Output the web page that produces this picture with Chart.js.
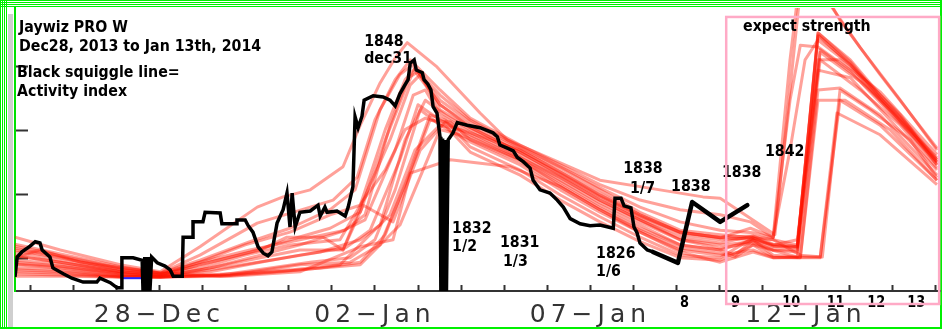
<!DOCTYPE html>
<html lang="en">
<head>
<meta charset="UTF-8">
<title>Jaywiz PRO W</title>
<script src="https://cdn.jsdelivr.net/npm/chart.js"></script>
<style>
  body { margin: 0; background: #fff; }
  canvas { display: block; }
</style>
</head>
<body>
<canvas id="jaywiz" width="942" height="329"></canvas>
<script>
// x = days from 28-Dec-2013, y = activity index
const tickDays = [0, 5, 10, 15];
const tickLabels = ['28−Dec', '02−Jan', '07−Jan', '12−Jan'];

// black squiggle (activity index)
const activityIndex = [
  [-3.35, 7.2], [-3.30, 10.3], [-3.19, 11.1], [-3.00, 12.0], [-2.88, 12.7], [-2.77, 12.5], [-2.72, 11.4],
  [-2.54, 10.3], [-2.47, 8.6], [-2.23, 7.7], [-2.03, 7.0], [-1.77, 6.4], [-1.45, 6.4], [-1.38, 7.0],
  [-1.14, 6.3], [-0.98, 5.5], [-0.89, 5.5], [-0.87, 10.2], [-0.61, 10.2], [-0.40, 9.8], [-0.38, 5.0],
  [-0.34, 10.3], [-0.30, 5.0], [-0.26, 10.3], [-0.22, 5.0], [-0.18, 10.3], [-0.05, 9.4], [0.13, 8.9],
  [0.25, 8.3], [0.32, 7.3],
  [0.53, 7.3], [0.55, 13.4], [0.78, 13.4], [0.78, 15.8], [1.01, 15.8], [1.06, 17.3], [1.41, 17.2],
  [1.45, 15.5], [1.80, 15.5], [1.80, 16.1], [1.99, 16.1], [2.06, 15.2], [2.17, 14.2], [2.29, 11.9],
  [2.41, 10.9], [2.52, 10.5], [2.61, 11.1], [2.73, 15.6], [2.87, 17.7], [2.96, 20.3], [3.03, 15.0],
  [3.08, 20.3], [3.15, 15.0], [3.26, 17.3], [3.50, 17.5], [3.68, 18.4], [3.73, 16.7], [3.84, 18.1],
  [3.89, 17.3], [4.12, 17.5], [4.31, 16.7], [4.38, 18.1], [4.49, 21.3], [4.54, 32.2], [4.61, 30.5],
  [4.70, 32.3], [4.75, 34.8], [4.96, 35.5], [5.19, 35.3], [5.35, 34.8], [5.47, 33.9], [5.58, 35.8],
  [5.68, 37.0], [5.77, 38.0], [5.82, 40.6], [5.91, 41.1], [5.96, 39.5], [6.10, 39.1], [6.14, 38.0],
  [6.23, 37.3], [6.30, 36.4], [6.35, 33.8], [6.44, 32.8], [6.51, 29.1], [6.53, 5.0], [6.57, 28.8],
  [6.60, 5.0], [6.63, 28.6], [6.66, 5.0], [6.70, 28.6], [6.81, 29.7], [6.91, 31.3], [7.14, 30.9],
  [7.44, 30.5], [7.74, 29.7], [7.84, 29.1], [7.90, 27.8], [8.07, 27.3], [8.21, 26.9], [8.30, 25.9],
  [8.44, 25.2], [8.60, 24.2], [8.67, 22.3], [8.83, 20.8], [9.06, 20.3], [9.23, 19.2], [9.37, 18.1],
  [9.53, 16.3], [9.76, 15.5], [9.99, 15.2], [10.22, 15.3], [10.53, 14.8], [10.57, 19.5], [10.71, 19.5],
  [10.78, 18.3], [10.94, 18.0], [11.01, 15.0], [11.08, 14.1], [11.15, 12.5], [11.32, 11.4], [11.45, 11.1]
];
// hand drawn extension
const activityHand = [[11.45, 11.1], [12.03, 9.4], [12.36, 18.9], [13.01, 15.8], [13.64, 18.4]];
const blueRun = [[-0.87, 7.0], [-0.38, 7.0]];

// red forecast runs
const run01 = [[-3.35,13.4],[-2.30,11.4],[-0.91,9.1],[0.02,8.0],[0.94,11.9],[2.27,18.1],[2.87,19.7],[3.50,20.8],[4.26,24.4],[4.66,30.9],[5.12,37.5],[5.47,41.4],[5.75,43.8],[6.44,40.0],[7.44,32.8],[8.07,28.6],[9.13,25.5],[10.22,22.3],[11.15,21.3],[12.61,19.7],[13.01,19.5],[13.77,16.1],[14.28,13.8],[14.87,52.0],[15.56,49.7],[16.26,43.0],[17.19,34.8],[18.04,27.0]];
const run02 = [[-3.35,12.3],[-2.30,10.8],[-0.91,8.8],[0.02,7.8],[0.94,10.6],[2.27,15.6],[3.50,18.1],[4.03,19.2],[4.59,22.8],[5.00,31.7],[5.47,38.0],[5.82,41.1],[6.51,36.4],[7.21,32.0],[8.37,27.8],[9.30,24.7],[10.22,21.6],[11.15,19.2],[12.08,17.7],[13.01,16.9],[13.71,15.8],[14.24,13.4],[14.63,41.1],[14.80,50.5],[15.33,52.8],[15.79,47.3],[16.72,38.8],[18.04,27.3]];
const run03 = [[-3.35,11.4],[-2.30,10.2],[-0.91,8.3],[0.02,7.7],[0.94,9.5],[1.99,12.2],[3.03,14.2],[3.96,16.9],[4.66,18.4],[5.24,30.2],[5.70,38.0],[5.93,39.8],[6.51,34.8],[7.21,31.4],[8.37,27.3],[9.30,24.2],[10.22,20.8],[11.15,17.3],[12.08,14.5],[13.01,13.8],[13.77,13.3],[14.24,12.2],[14.80,11.9],[15.28,45.3],[16.03,40.8],[16.72,35.3],[17.42,30.2],[18.04,25.2]];
const run04 = [[-3.35,10.5],[-2.30,9.5],[-0.91,8.0],[0.02,7.5],[0.94,9.1],[2.34,11.4],[2.96,13.4],[3.80,13.4],[4.26,11.4],[4.73,19.2],[5.35,28.6],[5.82,37.2],[6.05,38.8],[6.51,33.3],[7.21,30.5],[8.37,26.7],[9.30,23.1],[10.22,19.7],[11.15,16.4],[12.08,13.8],[13.01,13.0],[13.77,13.3],[14.24,12.0],[14.80,11.7],[15.28,45.0],[16.03,40.3],[16.72,34.8],[17.42,29.7],[18.04,24.7]];
const run05 = [[-3.35,9.5],[-2.30,8.9],[-0.91,7.7],[0.02,7.3],[1.18,8.6],[2.34,10.6],[3.26,12.2],[4.19,14.2],[4.77,16.1],[5.47,27.0],[5.89,35.6],[6.17,36.4],[6.51,32.5],[7.21,29.8],[8.37,25.9],[9.30,22.3],[10.22,18.8],[11.15,15.8],[12.08,13.0],[13.01,12.2],[13.77,12.7],[14.24,11.4],[14.80,11.4],[15.33,42.7],[16.03,39.2],[16.72,34.8],[18.04,25.8]];
const run06 = [[-3.35,8.6],[-2.30,8.3],[-0.91,7.3],[0.02,7.2],[1.18,8.0],[2.34,9.5],[3.26,10.6],[4.31,11.7],[4.89,14.5],[5.58,25.5],[6.00,34.1],[6.51,31.7],[7.21,29.1],[8.37,25.5],[9.30,21.6],[10.22,18.0],[11.15,14.8],[12.08,12.2],[13.01,11.4],[13.36,10.6],[13.77,13.0],[14.24,10.6],[14.80,10.3],[15.33,41.1],[16.26,36.4],[17.19,30.9],[18.04,24.2]];
const run07 = [[-3.35,7.7],[-2.30,7.5],[-0.91,7.2],[0.02,7.2],[1.41,7.5],[2.57,8.6],[3.50,9.5],[4.42,10.2],[5.00,13.0],[5.47,20.8],[6.05,33.3],[6.51,30.9],[7.21,28.3],[8.37,24.7],[9.30,20.8],[10.22,17.3],[11.15,14.2],[12.08,11.4],[13.01,10.6],[13.77,11.4],[14.24,10.2],[14.87,10.3],[15.28,36.4],[15.79,36.7],[16.72,32.5],[18.04,23.1]];
const run08 = [[-3.35,10.2],[-2.77,11.4],[-1.84,9.5],[0.02,7.8],[1.41,7.3],[2.80,8.0],[3.73,8.6],[4.66,9.5],[5.24,13.8],[5.82,23.9],[6.28,32.5],[6.63,31.7],[7.21,27.5],[8.37,23.9],[9.30,20.0],[10.22,16.6],[11.15,13.4],[12.08,10.6],[13.01,10.2],[13.77,13.3],[14.24,13.0],[14.87,10.6],[15.38,10.3],[15.79,36.4],[16.49,33.3],[17.42,28.6],[18.04,22.7]];
const run09 = [[-3.35,11.7],[-2.30,10.3],[-0.91,8.4],[0.02,7.7],[0.94,8.6],[1.99,10.6],[3.03,12.2],[4.19,13.0],[4.73,19.2],[5.24,23.9],[5.70,30.2],[6.17,32.0],[6.63,30.9],[7.21,26.7],[8.37,23.1],[9.30,19.2],[10.22,15.8],[11.15,12.7],[12.08,10.2],[13.01,9.8],[13.77,12.2],[14.80,10.3],[15.33,10.3],[15.72,32.8],[16.72,29.4],[18.04,21.6]];
const run10 = [[-3.35,8.3],[-2.30,8.0],[-0.91,7.3],[0.02,7.2],[1.64,7.7],[3.03,8.3],[4.19,9.1],[5.35,16.9],[5.93,27.0],[6.51,30.9],[6.98,30.2],[8.37,27.0],[9.30,23.6],[10.22,20.0],[11.15,16.9],[12.08,14.2],[13.01,13.3],[13.71,14.8],[14.24,13.4],[14.63,27.0],[14.98,41.1],[15.28,44.2],[16.03,40.3],[17.19,32.5],[18.04,24.7]];
const run11 = [[-3.35,9.1],[-2.30,8.6],[-0.91,7.5],[0.02,7.2],[1.64,7.5],[3.26,8.3],[4.66,9.1],[5.58,15.3],[6.51,30.2],[6.98,29.4],[8.37,25.5],[9.30,22.0],[10.22,18.4],[11.15,15.3],[12.08,12.2],[13.01,11.4],[13.77,13.0],[14.24,12.2],[14.80,13.0],[15.28,39.5],[16.03,38.3],[18.04,23.9]];
const run12 = [[-3.35,11.1],[-2.30,9.8],[-0.91,8.1],[0.02,7.5],[0.94,9.1],[2.10,11.1],[3.03,13.0],[3.96,14.8],[4.66,17.3],[5.24,28.6],[5.70,36.4],[5.91,39.5],[6.51,34.1],[7.21,30.9],[8.37,27.0],[9.30,23.6],[10.22,20.3],[11.15,16.9],[12.08,14.2],[13.01,13.3],[13.77,13.0],[14.24,11.9],[14.80,11.9],[15.28,45.3],[16.03,41.1],[16.72,35.6],[17.42,30.5],[18.04,25.5]];
const run13 = [[-3.35,9.8],[-2.30,9.2],[-0.91,7.8],[0.02,7.3],[0.94,8.3],[2.34,10.2],[3.26,11.4],[4.26,11.4],[4.73,18.4],[5.42,15.8],[6.05,27.0],[6.63,31.4],[7.21,29.4],[8.37,25.8],[9.30,22.7],[10.22,19.2],[11.15,16.1],[12.08,13.3],[13.01,12.5],[13.77,13.6],[14.24,13.0],[14.80,12.2],[15.28,41.1],[15.79,41.1],[16.72,36.1],[18.04,26.3]];
const run14 = [[-3.35,8.0],[-2.30,7.8],[-0.91,7.2],[0.02,7.2],[1.64,7.3],[3.26,8.0],[4.66,11.9],[5.42,13.0],[5.82,23.4],[6.75,25.5],[8.14,24.4],[9.30,21.3],[10.22,17.7],[11.15,14.2],[12.08,11.1],[13.01,9.5],[13.77,11.1],[14.24,10.2],[15.33,10.2],[15.79,34.8],[16.72,30.9],[18.04,22.3]];
const run15 = [[-3.35,12.0],[-2.30,10.5],[-0.91,8.6],[0.02,7.8],[0.94,9.8],[2.10,12.7],[3.03,14.8],[3.96,17.7],[4.54,20.8],[5.12,33.3],[5.58,38.8],[5.86,40.3],[6.51,35.6],[7.21,31.7],[8.37,27.5],[9.30,24.4],[10.22,21.1],[11.15,18.1],[12.08,15.8],[13.01,14.5],[13.77,14.1],[14.24,13.3],[14.63,34.8],[14.87,43.4],[15.28,43.1],[16.03,39.5],[17.19,32.0],[18.04,25.5]];
const run16 = [[-3.35,9.2],[-2.30,8.8],[-0.91,7.7],[0.02,7.3],[1.18,8.3],[2.57,9.8],[3.73,11.1],[4.66,13.0],[5.12,15.3],[5.70,28.6],[6.17,34.8],[6.63,32.5],[7.21,30.2],[8.37,26.3],[9.30,22.8],[10.22,19.2],[11.15,16.1],[12.08,13.0],[13.01,11.7],[13.77,12.5],[14.24,11.4],[14.80,11.1],[15.33,42.3],[16.26,37.7],[18.04,25.2]];
const run17 = [[-3.35,7.3],[-2.30,7.3],[-0.91,7.2],[0.02,7.2],[1.64,7.5],[3.26,9.1],[4.42,9.5],[5.12,12.2],[5.70,21.6],[6.28,31.7],[6.75,31.4],[7.21,28.6],[8.37,25.2],[9.30,21.3],[10.22,17.7],[11.15,14.5],[12.08,11.7],[13.01,10.9],[13.36,10.3],[13.77,12.2],[14.24,10.3],[14.87,10.2],[15.28,34.8],[15.91,34.8],[16.95,30.2],[18.04,22.3]];
const run18 = [[-3.35,10.5],[-2.30,9.5],[-0.91,8.0],[0.02,7.5],[0.94,9.5],[2.10,11.4],[3.26,13.0],[4.31,14.5],[4.77,16.9],[5.35,30.9],[5.77,38.3],[6.00,39.2],[6.51,34.1],[7.21,30.6],[8.37,26.6],[9.30,23.3],[10.22,19.8],[11.15,16.7],[12.08,14.1],[13.01,13.4],[13.77,13.6],[14.24,12.3],[14.80,12.0],[15.28,44.8],[16.03,40.5],[16.72,35.2],[17.42,29.8],[18.04,25.0]];
const forecastRuns = [run01, run02, run03, run04, run05, run06, run07, run08, run09,
  run10, run11, run12, run13, run14, run15, run16, run17, run18];

// notes written on the chart: text, day, index
const notes = [
  ['1848', 4.75, 43.3], ['dec31', 4.75, 40.6],
  ['1832', 6.79, 14.1], ['1/2', 6.79, 11.3],
  ['1831', 7.90, 11.9], ['1/3', 7.97, 8.9],
  ['1826', 10.13, 10.2], ['1/6', 10.13, 7.3],
  ['1838', 10.76, 23.4], ['1/7', 10.92, 20.3],
  ['1838', 11.87, 20.6], ['1838', 13.05, 22.8],
  ['1842', 14.05, 26.1], ['expect strength', 13.54, 45.6]
];
const dayNotes = [['8', 12.08], ['9', 13.26], ['10', 14.45], ['11', 15.48], ['12', 16.42], ['13', 17.35]];
const header = ['Jaywiz PRO W', 'Dec28, 2013 to Jan 13th, 2014', 'Black squiggle line=', 'Activity index'];
const expectBox = { from: 13.15, to: 18.09, top: 47.8, bottom: 2.97 };

const headerPos = [[19, 32], [19, 51], [17, 77], [17, 96]];

const decor = {
  id: 'decor',
  beforeDraw(chart) {
    const ctx = chart.ctx;
    const w = chart.width, h = chart.height;
    ctx.save();
    ctx.fillStyle = '#fff';
    ctx.fillRect(0, 0, w, h);
    ctx.fillStyle = '#00f000';
    for (let i = 0; i < 8; i += 2) {
      ctx.fillRect(0, i, w, 1);
      ctx.fillRect(i, 0, 1, h);
    }
    ctx.fillRect(0, h - 2, w, 2);
    ctx.fillRect(w - 2, 0, 2, h);
    ctx.fillStyle = '#cfcfcf';
    ctx.fillRect(8, 14, 5, h - 16);
    ctx.restore();
    // wide spacing for the date labels
    ctx.letterSpacing = '5px';
  },
  beforeDatasetsDraw(chart) {
    chart.ctx.letterSpacing = '0px';
  },
  afterDraw(chart) {
    const { ctx, scales: { x, y } } = chart;
    ctx.save();
    ctx.letterSpacing = '0px';
    ctx.fillStyle = '#000';
    ctx.textBaseline = 'alphabetic';
    const say = (text, px, py, size) => {
      ctx.save();
      ctx.font = 'bold ' + size + 'px "DejaVu Sans"';
      ctx.translate(px, py);
      ctx.scale(0.86, 1);
      ctx.fillText(text, 0, 0);
      ctx.restore();
    };
    header.forEach((t, i) => say(t, headerPos[i][0], headerPos[i][1], 16.5));
    notes.forEach(([t, d, v]) => say(t, x.getPixelForValue(d), y.getPixelForValue(v), 16.5));
    dayNotes.forEach(([t, d]) => say(t, x.getPixelForValue(d), 307, 15));

    const bx1 = x.getPixelForValue(expectBox.from), bx2 = x.getPixelForValue(expectBox.to);
    const by1 = y.getPixelForValue(expectBox.top), by2 = y.getPixelForValue(expectBox.bottom);
    ctx.strokeStyle = '#ffaac6';
    ctx.lineWidth = 2.5;
    ctx.strokeRect(bx1, by1, bx2 - bx1, by2 - by1);
    ctx.restore();
  }
};

const datasets = [
  { data: activityIndex, borderColor: '#000', borderWidth: 3.5, order: 0 },
  { data: activityHand, borderColor: '#000', borderWidth: 4.5, borderCapStyle: 'round', borderJoinStyle: 'round', order: 0 },
  { data: blueRun, borderColor: '#2828ff', borderWidth: 2, order: 1 }
];
forecastRuns.forEach(run => datasets.push({
  data: run,
  borderColor: 'rgba(255, 20, 0, 0.4)',
  borderWidth: 3,
  borderJoinStyle: 'round',
  order: 2
}));

new Chart(document.getElementById('jaywiz'), {
  type: 'line',
  data: { datasets },
  options: {
    responsive: false,
    animation: false,
    events: [],
    layout: { padding: { left: 15, top: 8, right: 2, bottom: 0 } },
    elements: { point: { radius: 0 }, line: { tension: 0 } },
    plugins: { legend: { display: false }, tooltip: { enabled: false } },
    scales: {
      x: {
        type: 'linear',
        min: -3.35,
        max: 18.11,
        border: { color: '#333', width: 2 },
        grid: { drawOnChartArea: false, tickLength: -6, tickColor: '#333', tickWidth: 2 },
        ticks: {
          stepSize: 1,
          autoSkip: false,
          includeBounds: false,
          maxRotation: 0,
          padding: 0,
          color: '#333',
          font: { family: 'DejaVu Sans', size: 25, lineHeight: 2.4 },
          callback: (value) => {
            const i = tickDays.indexOf(value);
            return i < 0 ? '' : tickLabels[i];
          }
        },
        afterFit: (s) => { s.height = 38; }
      },
      y: {
        type: 'linear',
        min: 5,
        max: 49.2,
        border: { color: '#00e000', width: 2 },
        grid: { drawOnChartArea: false, tickLength: -13, tickColor: '#333', tickWidth: 2 },
        ticks: { display: false, stepSize: 10, includeBounds: false },
        afterFit: (s) => { s.width = 0; }
      }
    }
  },
  plugins: [decor]
});
</script>
</body>
</html>
